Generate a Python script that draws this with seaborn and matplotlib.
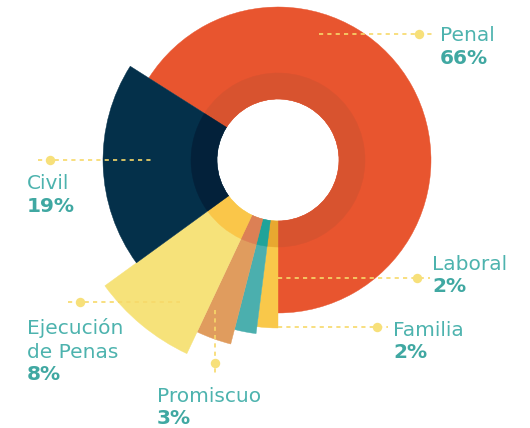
import numpy as np
import matplotlib
matplotlib.use("Agg")
import matplotlib.pyplot as plt
import seaborn as sns

# ---- data ----
categories = ["Penal", "Laboral", "Familia", "Promiscuo", "Ejecución\nde Penas", "Civil"]
percent = [66, 2, 2, 3, 8, 19]
extent = [153, 168, 175, 190, 214, 175]   # outer radius of each slice (px units)
labels_pct = ["66%", "2%", "2%", "3%", "8%", "19%"]

# ---- style ----
outer_colors = ["#E8552F", "#F9C84A", "#4BAFAE", "#E09C5E", "#F6E27A", "#04304A"]
inner_colors = ["#D8532F", "#E8A830", "#20A39A", "#DC8055", "#FAC649", "#03213A"]
text_color = "#4DB3AE"
pct_color = "#40A8A2"
lead_color = "#F7D96A"
dot_color = "#F7E07A"

sns.set_theme(style="white")
plt.rcParams["font.family"] = ["DejaVu Sans"]

W, H = 530, 428
fig = plt.figure(figsize=(W / 100, H / 100), dpi=100)

cx, cy, rmax = 278, 160, 218
ax = fig.add_axes([(cx - rmax) / W, (H - cy - rmax) / H, 2 * rmax / W, 2 * rmax / H],
                  projection="polar")
ax.set_theta_zero_location("N")
ax.set_theta_direction(-1)

vals = np.array(percent, dtype=float)
widths = vals / vals.sum() * 2 * np.pi
start = np.pi - widths[0]
lefts = start + np.concatenate([[0], np.cumsum(widths)[:-1]])

hole, ring = 61, 87
ax.bar(lefts, np.array(extent) - hole, width=widths, bottom=hole, align="edge",
       color=outer_colors, edgecolor=outer_colors, linewidth=0.3)
ax.bar(lefts, ring - hole, width=widths, bottom=hole, align="edge",
       color=inner_colors, edgecolor=inner_colors, linewidth=0.3)
ax.set_ylim(0, rmax)
ax.axis("off")

# ---- overlay for leaders and labels (pixel coordinates) ----
ov = fig.add_axes([0, 0, 1, 1])
ov.set_xlim(0, W)
ov.set_ylim(H, 0)
ov.axis("off")

fs = 14.5
line_kw = dict(color=lead_color, lw=1.2, linestyle=(0, (2.5, 2.5)))

leaders = [
    dict(seg=((319, 432), (34, 34)), dot=(419, 34), txt=(440, 35)),            # Penal
    dict(seg=((278, 430), (278, 278)), dot=(417, 278), txt=(432, 264)),        # Laboral
    dict(seg=((278, 388), (327, 327)), dot=(377, 327), txt=(393, 330)),        # Familia
    dict(seg=((215, 215), (310, 374)), dot=(215, 363), txt=(157, 396)),        # Promiscuo
    dict(seg=((68, 180), (302, 302)), dot=(80, 302), txt=(27, 328)),           # Ejecución
    dict(seg=((38, 152), (160, 160)), dot=(50, 160), txt=(27, 183)),           # Civil
]

for cat, pct, ld in zip(categories, labels_pct, leaders):
    xs, ys = ld["seg"]
    ov.plot(xs, ys, **line_kw)
    ov.plot([ld["dot"][0]], [ld["dot"][1]], "o", color=dot_color, ms=6.8, mec="none")
    tx, ty = ld["txt"]
    lines = cat.split("\n")
    for i, ln in enumerate(lines):
        ov.text(tx, ty + 24 * i, ln, fontsize=fs, color=text_color, va="center", ha="left")
    ov.text(tx, ty + 24 * len(lines) - 1, pct, fontsize=fs, color=pct_color,
            fontweight="bold", va="center", ha="left")

fig.savefig("out.png", dpi=100)
